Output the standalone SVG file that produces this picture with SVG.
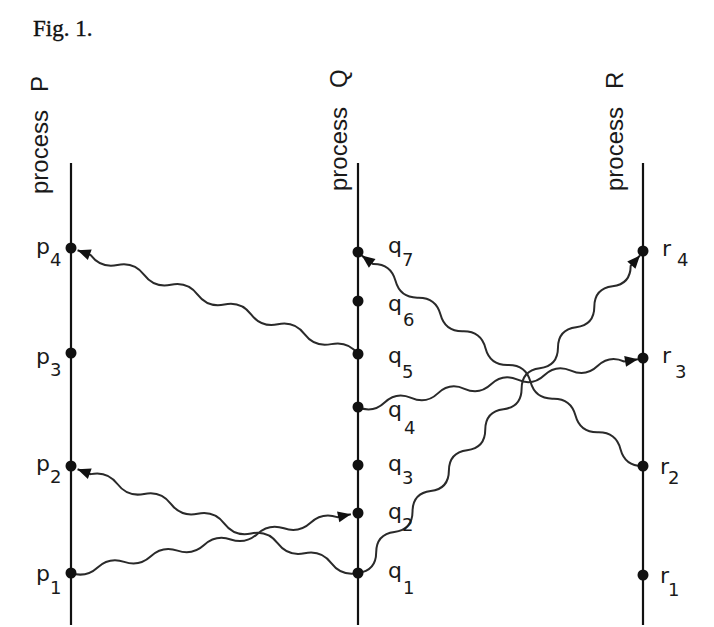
<svg xmlns="http://www.w3.org/2000/svg" width="714" height="627" viewBox="0 0 714 627">
<style>
.proc{stroke:#111;stroke-width:2.2;fill:none}
.ev{fill:#111}
.msg{stroke:#2a2a2a;stroke-width:2;fill:none;marker-end:url(#arr)}
.lbl{font-family:"DejaVu Sans","Liberation Sans",sans-serif;font-size:22px;fill:#1a1a1a}
.sub{font-size:18px}
.pt{font-family:"Liberation Sans",Arial,sans-serif;font-size:24px;fill:#1a1a1a}
.fig{font-family:"Liberation Serif","Times New Roman",serif;font-size:23px;fill:#111;stroke:#111;stroke-width:0.4}
</style>
<defs>
<marker id="arr" markerUnits="userSpaceOnUse" markerWidth="16" markerHeight="14" viewBox="-15 -7 16 14" refX="0" refY="0" orient="auto">
<path d="M0 0 L-13 -5.5 L-13 5.5 Z" fill="#111"/>
</marker>
</defs>
<rect width="714" height="627" fill="#fff"/>
<text class="fig" x="33" y="36">Fig. 1.</text>

<g id="processP">
<line class="proc" x1="71" y1="163" x2="71" y2="625"/>
<text class="pt" transform="translate(48,194) rotate(-90)">process<tspan x="102">P</tspan></text>
</g>
<g id="processQ">
<line class="proc" x1="358" y1="163" x2="358" y2="625"/>
<text class="pt" transform="translate(347,191) rotate(-90)">process<tspan x="103">Q</tspan></text>
</g>
<g id="processR">
<line class="proc" x1="643" y1="163" x2="643" y2="625"/>
<text class="pt" transform="translate(623,191) rotate(-90)">process<tspan x="102">R</tspan></text>
</g>

<g id="connectors">
<path id="m1" class="msg" transform="translate(71,573) rotate(-11.85)" d="M0 0 q13.6 8 27.2 0 t27.2 0 t27.2 0 t27.2 0 t27.2 0 t27.2 0 t27.2 0 t27.2 0 t27.2 0 t27.2 0 l14 0"/>
<path id="m2" class="msg" transform="translate(358,573) rotate(200.3)" d="M0 0 q14.25 -9 28.5 0 t28.5 0 t28.5 0 t28.5 0 t28.5 0 t28.5 0 t28.5 0 t28.5 0 t28.5 0 t28.5 0 l14 0"/>
<path id="m3" class="msg" transform="translate(358,573) rotate(-48.4)" d="M0 0 q13.69 12 27.38 0 t27.38 0 t27.38 0 t27.38 0 t27.38 0 t27.38 0 t27.38 0 t27.38 0 t27.38 0 t27.38 0 t27.38 0 t27.38 0 t27.38 0 t27.38 0 t27.38 0 l14 0"/>
<path id="m4" class="msg" transform="translate(358,407) rotate(-9.7)" d="M0 0 q13.5 9 27 0 t27 0 t27 0 t27 0 t27 0 t27 0 t27 0 t27 0 t27 0 t27 0 l14 0"/>
<path id="m5" class="msg" transform="translate(358,354) rotate(200.3)" d="M0 0 q14.25 9 28.5 0 t28.5 0 t28.5 0 t28.5 0 t28.5 0 t28.5 0 t28.5 0 t28.5 0 t28.5 0 t28.5 0 l14 0"/>
<path id="m6" class="msg" transform="translate(643,466) rotate(216.8)" d="M0 0 q14.05 -11 28.1 0 t28.1 0 t28.1 0 t28.1 0 t28.1 0 t28.1 0 t28.1 0 t28.1 0 t28.1 0 t28.1 0 t28.1 0 t28.1 0 l14 0"/>
</g>

<g id="p4"><circle class="ev" cx="71" cy="248" r="5.5"/><text class="lbl" x="36" y="254">p<tspan class="sub" x="50" y="266">4</tspan></text></g>
<g id="p3"><circle class="ev" cx="71" cy="353" r="5.5"/><text class="lbl" x="36" y="364">p<tspan class="sub" x="50" y="376">3</tspan></text></g>
<g id="p2"><circle class="ev" cx="71" cy="466" r="5.5"/><text class="lbl" x="36" y="471">p<tspan class="sub" x="50" y="483">2</tspan></text></g>
<g id="p1"><circle class="ev" cx="71" cy="573" r="5.5"/><text class="lbl" x="36" y="581">p<tspan class="sub" x="50" y="594">1</tspan></text></g>

<g id="q7"><circle class="ev" cx="358" cy="252" r="5.5"/><text class="lbl" x="388" y="253">q<tspan class="sub" x="402" y="266">7</tspan></text></g>
<g id="q6"><circle class="ev" cx="358" cy="301" r="5.5"/><text class="lbl" x="388" y="311">q<tspan class="sub" x="403" y="326">6</tspan></text></g>
<g id="q5"><circle class="ev" cx="358" cy="354" r="5.5"/><text class="lbl" x="388" y="363">q<tspan class="sub" x="402" y="378">5</tspan></text></g>
<g id="q4"><circle class="ev" cx="358" cy="407" r="5.5"/><text class="lbl" x="388" y="417">q<tspan class="sub" x="404" y="434">4</tspan></text></g>
<g id="q3"><circle class="ev" cx="358" cy="465" r="5.5"/><text class="lbl" x="388" y="471">q<tspan class="sub" x="402" y="484">3</tspan></text></g>
<g id="q2"><circle class="ev" cx="358" cy="513" r="5.5"/><text class="lbl" x="388" y="519">q<tspan class="sub" x="402" y="531">2</tspan></text></g>
<g id="q1"><circle class="ev" cx="358" cy="573" r="5.5"/><text class="lbl" x="388" y="578">q<tspan class="sub" x="403" y="594">1</tspan></text></g>

<g id="r4"><circle class="ev" cx="643" cy="251" r="5.5"/><text class="lbl" x="662" y="256">r<tspan class="sub" x="677" y="266">4</tspan></text></g>
<g id="r3"><circle class="ev" cx="643" cy="358" r="5.5"/><text class="lbl" x="662" y="363">r<tspan class="sub" x="675" y="378">3</tspan></text></g>
<g id="r2"><circle class="ev" cx="643" cy="466" r="5.5"/><text class="lbl" x="660" y="474">r<tspan class="sub" x="668" y="484">2</tspan></text></g>
<g id="r1"><circle class="ev" cx="643" cy="575" r="5.5"/><text class="lbl" x="660" y="583">r<tspan class="sub" x="668" y="596">1</tspan></text></g>
</svg>
